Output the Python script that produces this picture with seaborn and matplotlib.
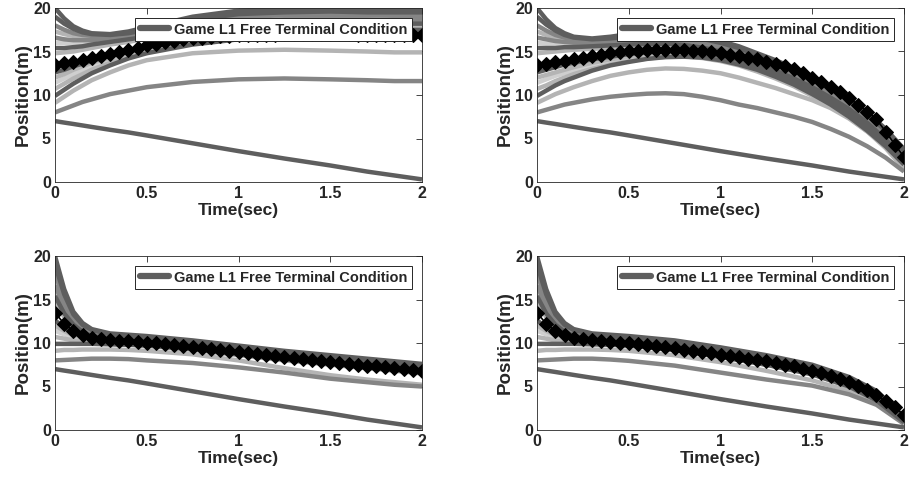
import numpy as np
import pandas as pd
import matplotlib
matplotlib.use("Agg")
import matplotlib.pyplot as plt
from matplotlib.lines import Line2D
import seaborn as sns

sns.set_style("white")
plt.rcParams['font.family'] = ['Liberation Sans', 'DejaVu Sans']
plt.rcParams['font.weight'] = 'bold'

# ---------------- data ----------------
T = [0, 0.05, 0.1, 0.15, 0.2, 0.3, 0.4, 0.5, 0.75, 1.0, 1.25, 1.5, 1.7, 1.85, 2.0]
T2 = [0, 0.05, 0.1, 0.15, 0.2, 0.3, 0.4, 0.5, 0.6, 0.7, 0.8, 0.9, 1.0, 1.1, 1.2,
      1.3, 1.4, 1.5, 1.6, 1.7, 1.8, 1.9, 2.0]
T_marker = [round(0.05 * i, 2) for i in range(41)]

legend_label = "Game L1 Free Terminal Condition"
x_ticks = [0, 0.5, 1, 1.5, 2]
x_tick_labels = ["0", "0.5", "1", "1.5", "2"]
y_ticks = [0, 5, 10, 15, 20]
y_tick_labels = ["0", "5", "10", "15", "20"]

# shade code of each trajectory (D dark, M medium, L light, W lighter)
shades = ["D", "D", "M", "L", "M", "W", "D", "L", "D", "L", "W", "L", "D", "L", "M"]

lead = [7.0, 6.83, 6.67, 6.5, 6.33, 6.0, 5.7, 5.35, 4.45, 3.55, 2.7, 1.9, 1.2, 0.75, 0.3]

p1_lines = [
    [20.0, 18.8, 17.9, 17.4, 17.1, 17.0, 17.3, 17.8, 19.0, 19.7, 19.9, 19.9, 19.8, 19.8, 19.8],
    [19.0, 18.2, 17.6, 17.2, 17.0, 16.9, 17.1, 17.5, 18.6, 19.3, 19.5, 19.6, 19.5, 19.5, 19.5],
    [18.0, 17.5, 17.1, 16.9, 16.8, 16.8, 17.0, 17.3, 18.2, 18.9, 19.2, 19.2, 19.2, 19.1, 19.1],
    [17.3, 17.0, 16.8, 16.6, 16.6, 16.7, 16.9, 17.2, 18.0, 18.6, 18.9, 19.0, 18.9, 18.9, 18.9],
    [16.6, 16.4, 16.3, 16.3, 16.3, 16.5, 16.7, 17.0, 17.8, 18.4, 18.7, 18.7, 18.7, 18.6, 18.6],
    [16.0, 16.0, 16.0, 16.0, 16.1, 16.3, 16.6, 16.9, 17.6, 18.1, 18.4, 18.5, 18.4, 18.4, 18.4],
    [15.4, 15.4, 15.5, 15.6, 15.8, 16.1, 16.4, 16.7, 17.4, 17.9, 18.2, 18.3, 18.2, 18.2, 18.2],
    [14.8, 14.9, 15.0, 15.2, 15.4, 15.8, 16.1, 16.5, 17.2, 17.7, 18.0, 18.1, 18.0, 18.0, 18.0],
    [12.6, 12.9, 13.3, 13.6, 13.9, 14.5, 15.0, 15.5, 16.4, 17.0, 17.4, 17.5, 17.5, 17.5, 17.5],
    [12.0, 12.4, 12.9, 13.3, 13.7, 14.3, 14.9, 15.4, 16.3, 16.9, 17.2, 17.4, 17.4, 17.4, 17.4],
    [11.4, 11.9, 12.4, 12.9, 13.3, 14.0, 14.6, 15.1, 16.1, 16.7, 17.1, 17.2, 17.3, 17.3, 17.3],
    [10.7, 11.3, 11.9, 12.4, 12.9, 13.7, 14.4, 14.9, 15.9, 16.5, 16.9, 17.1, 17.1, 17.1, 17.1],
    [9.9, 10.6, 11.3, 11.9, 12.5, 13.4, 14.2, 14.8, 15.8, 16.4, 16.8, 17.0, 17.0, 17.0, 17.0],
    [9.1, 9.8, 10.5, 11.1, 11.7, 12.6, 13.4, 14.0, 14.8, 15.1, 15.2, 15.1, 15.0, 14.9, 14.9],
    [8.0, 8.4, 8.8, 9.2, 9.5, 10.1, 10.5, 10.9, 11.5, 11.8, 11.9, 11.8, 11.7, 11.6, 11.6],
]
p1_diamond = [13.5, 13.65, 13.8, 14.0, 14.2, 14.45, 14.7, 14.95, 15.2, 15.45, 15.7,
              15.9, 16.1, 16.25, 16.4, 16.5, 16.6, 16.7, 16.75, 16.8, 16.85,
              16.9, 16.9, 16.95, 16.95, 17.0, 17.0, 17.0, 17.0, 17.0, 17.0,
              17.0, 17.0, 16.95, 16.95, 16.9, 16.9, 16.9, 16.85, 16.85, 16.85]

# panel 2 is read on the finer time grid T2
p2_lines = [
    [20.0, 18.7, 17.7, 17.1, 16.7, 16.5, 16.7, 17.0, 17.1, 17.15, 17.0, 16.7, 16.2, 15.6, 14.8, 14.0, 13.1, 12.1, 10.9, 9.6, 8.0, 6.1, 3.8],
    [19.0, 18.1, 17.4, 16.9, 16.6, 16.4, 16.5, 16.7, 16.85, 16.9, 16.75, 16.45, 16.0, 15.4, 14.6, 13.8, 12.9, 11.9, 10.7, 9.4, 7.8, 5.9, 3.6],
    [18.0, 17.4, 16.9, 16.6, 16.4, 16.3, 16.4, 16.55, 16.65, 16.7, 16.55, 16.25, 15.8, 15.2, 14.4, 13.6, 12.7, 11.7, 10.5, 9.2, 7.6, 5.7, 3.4],
    [17.3, 16.9, 16.6, 16.4, 16.2, 16.1, 16.2, 16.35, 16.45, 16.5, 16.35, 16.05, 15.6, 15.0, 14.2, 13.4, 12.5, 11.5, 10.3, 9.0, 7.4, 5.5, 3.2],
    [16.6, 16.4, 16.2, 16.1, 16.0, 16.0, 16.1, 16.2, 16.25, 16.3, 16.15, 15.85, 15.4, 14.8, 14.0, 13.2, 12.3, 11.3, 10.1, 8.8, 7.2, 5.3, 3.0],
    [16.0, 15.9, 15.9, 15.8, 15.8, 15.8, 15.9, 16.0, 16.05, 16.1, 15.95, 15.65, 15.2, 14.6, 13.8, 13.0, 12.1, 11.1, 9.9, 8.6, 7.0, 5.1, 2.8],
    [15.4, 15.4, 15.4, 15.5, 15.5, 15.6, 15.7, 15.8, 15.85, 15.9, 15.75, 15.45, 15.0, 14.4, 13.6, 12.8, 11.9, 10.9, 9.7, 8.4, 6.8, 4.9, 2.6],
    [14.8, 14.9, 15.0, 15.1, 15.2, 15.3, 15.4, 15.5, 15.6, 15.65, 15.55, 15.25, 14.8, 14.2, 13.4, 12.6, 11.7, 10.7, 9.5, 8.2, 6.6, 4.7, 2.5],
    [12.6, 12.9, 13.2, 13.5, 13.7, 14.1, 14.4, 14.7, 14.9, 15.05, 15.05, 14.85, 14.5, 14.0, 13.3, 12.5, 11.6, 10.5, 9.3, 8.0, 6.4, 4.5, 2.4],
    [12.0, 12.3, 12.6, 12.9, 13.2, 13.7, 14.1, 14.4, 14.65, 14.8, 14.85, 14.65, 14.3, 13.8, 13.1, 12.3, 11.4, 10.3, 9.1, 7.8, 6.2, 4.4, 2.3],
    [11.4, 11.8, 12.2, 12.5, 12.8, 13.4, 13.8, 14.2, 14.45, 14.6, 14.65, 14.45, 14.1, 13.6, 12.9, 12.1, 11.2, 10.1, 8.9, 7.6, 6.0, 4.3, 2.2],
    [10.7, 11.1, 11.6, 12.0, 12.4, 13.0, 13.5, 13.9, 14.2, 14.4, 14.45, 14.25, 13.9, 13.4, 12.7, 11.9, 11.0, 9.9, 8.7, 7.4, 5.8, 4.2, 2.1],
    [9.9, 10.5, 11.1, 11.6, 12.0, 12.8, 13.4, 13.8, 14.15, 14.35, 14.4, 14.3, 14.0, 13.5, 12.9, 12.1, 11.2, 10.1, 8.9, 7.5, 5.9, 4.1, 2.0],
    [9.1, 9.6, 10.1, 10.5, 10.9, 11.6, 12.2, 12.6, 12.9, 13.05, 13.0, 12.8, 12.5, 12.0, 11.4, 10.8, 10.1, 9.4, 8.5, 7.3, 5.8, 3.9, 1.5],
    [8.0, 8.3, 8.6, 8.9, 9.1, 9.5, 9.8, 10.0, 10.15, 10.2, 10.1, 9.8, 9.4, 8.9, 8.5, 8.0, 7.5, 6.9, 6.1, 5.2, 4.1, 2.8, 1.2],
]
p2_diamond = [13.5, 13.6, 13.75, 13.9, 14.1, 14.3, 14.5, 14.65, 14.8, 14.9, 15.0,
              15.1, 15.15, 15.2, 15.2, 15.2, 15.15, 15.1, 15.0, 14.9, 14.8,
              14.65, 14.5, 14.3, 14.1, 13.85, 13.6, 13.3, 12.95, 12.5, 12.0,
              11.5, 10.9, 10.3, 9.6, 8.9, 8.1, 7.2, 5.8, 4.3, 2.9]

p3_lines = [
    [20.0, 16.2, 13.6, 12.3, 11.6, 11.1, 10.95, 10.8, 10.3, 9.7, 9.1, 8.6, 8.2, 7.9, 7.6],
    [19.0, 15.6, 13.3, 12.1, 11.5, 11.0, 10.85, 10.7, 10.2, 9.6, 9.0, 8.5, 8.1, 7.8, 7.5],
    [18.0, 15.0, 13.0, 11.9, 11.3, 10.9, 10.75, 10.6, 10.1, 9.5, 8.9, 8.4, 8.0, 7.7, 7.4],
    [17.3, 14.6, 12.8, 11.8, 11.2, 10.8, 10.65, 10.5, 10.0, 9.4, 8.8, 8.3, 7.9, 7.6, 7.3],
    [16.6, 14.2, 12.6, 11.6, 11.1, 10.7, 10.55, 10.4, 9.9, 9.3, 8.7, 8.2, 7.8, 7.5, 7.2],
    [16.0, 13.8, 12.3, 11.4, 10.9, 10.6, 10.45, 10.3, 9.8, 9.2, 8.6, 8.1, 7.7, 7.4, 7.1],
    [15.4, 13.4, 12.1, 11.3, 10.8, 10.5, 10.35, 10.2, 9.7, 9.1, 8.5, 8.0, 7.6, 7.3, 7.0],
    [14.8, 13.0, 11.8, 11.1, 10.7, 10.4, 10.25, 10.1, 9.6, 9.0, 8.4, 7.9, 7.5, 7.2, 6.9],
    [12.6, 11.8, 11.2, 10.8, 10.5, 10.3, 10.15, 10.0, 9.5, 8.9, 8.3, 7.8, 7.4, 7.1, 6.8],
    [12.0, 11.4, 10.9, 10.6, 10.4, 10.2, 10.05, 9.9, 9.4, 8.8, 8.2, 7.7, 7.3, 7.0, 6.7],
    [11.4, 11.0, 10.7, 10.4, 10.2, 10.0, 9.9, 9.8, 9.3, 8.7, 8.1, 7.6, 7.2, 6.9, 6.6],
    [10.7, 10.5, 10.3, 10.1, 10.0, 9.9, 9.8, 9.7, 9.2, 8.6, 8.0, 7.5, 7.1, 6.8, 6.5],
    [9.9, 9.9, 9.9, 9.9, 9.9, 9.85, 9.8, 9.7, 9.3, 8.7, 8.1, 7.6, 7.2, 6.9, 6.6],
    [9.1, 9.2, 9.2, 9.25, 9.25, 9.25, 9.2, 9.1, 8.7, 8.0, 7.1, 6.3, 5.8, 5.5, 5.2],
    [8.0, 8.05, 8.1, 8.15, 8.2, 8.2, 8.15, 8.0, 7.7, 7.2, 6.6, 5.9, 5.5, 5.2, 5.0],
]
p3_diamond = [13.5, 12.2, 11.4, 10.9, 10.6, 10.45, 10.35, 10.25, 10.2, 10.1, 10.0,
              9.95, 9.85, 9.75, 9.65, 9.55, 9.45, 9.35, 9.2, 9.1, 9.0,
              8.9, 8.75, 8.65, 8.55, 8.4, 8.3, 8.2, 8.05, 7.95, 7.85,
              7.7, 7.6, 7.5, 7.4, 7.3, 7.2, 7.1, 7.0, 6.9, 6.8]

p4_lines = [
    [20.0, 16.2, 13.6, 12.3, 11.6, 11.1, 10.95, 10.8, 10.3, 9.5, 8.6, 7.5, 6.1, 4.5, 1.5],
    [19.0, 15.6, 13.3, 12.1, 11.5, 11.0, 10.85, 10.7, 10.2, 9.4, 8.5, 7.4, 6.0, 4.4, 1.4],
    [18.0, 15.0, 13.0, 11.9, 11.3, 10.9, 10.75, 10.6, 10.1, 9.3, 8.4, 7.3, 5.9, 4.3, 1.3],
    [17.3, 14.6, 12.8, 11.8, 11.2, 10.8, 10.65, 10.5, 10.0, 9.2, 8.3, 7.2, 5.8, 4.2, 1.3],
    [16.6, 14.2, 12.6, 11.6, 11.1, 10.7, 10.55, 10.4, 9.9, 9.1, 8.2, 7.1, 5.7, 4.1, 1.2],
    [16.0, 13.8, 12.3, 11.4, 10.9, 10.6, 10.45, 10.3, 9.8, 9.0, 8.1, 7.0, 5.6, 4.0, 1.2],
    [15.4, 13.4, 12.1, 11.3, 10.8, 10.5, 10.35, 10.2, 9.7, 8.9, 8.0, 6.9, 5.5, 3.9, 1.1],
    [14.8, 13.0, 11.8, 11.1, 10.7, 10.4, 10.25, 10.1, 9.6, 8.8, 7.9, 6.8, 5.4, 3.8, 1.1],
    [12.6, 11.8, 11.2, 10.8, 10.5, 10.3, 10.15, 10.0, 9.5, 8.7, 7.8, 6.7, 5.3, 3.7, 1.0],
    [12.0, 11.4, 10.9, 10.6, 10.4, 10.2, 10.05, 9.9, 9.4, 8.6, 7.7, 6.6, 5.2, 3.6, 1.0],
    [11.4, 11.0, 10.7, 10.4, 10.2, 10.0, 9.9, 9.8, 9.3, 8.5, 7.6, 6.5, 5.1, 3.5, 0.9],
    [10.7, 10.5, 10.3, 10.1, 10.0, 9.9, 9.8, 9.7, 9.2, 8.4, 7.5, 6.4, 5.0, 3.4, 0.9],
    [9.9, 9.9, 9.9, 9.9, 9.9, 9.85, 9.8, 9.7, 9.2, 8.4, 7.5, 6.4, 5.0, 3.4, 0.9],
    [9.1, 9.2, 9.2, 9.25, 9.25, 9.25, 9.2, 9.1, 8.6, 7.8, 6.8, 5.7, 4.5, 3.1, 0.8],
    [8.0, 8.05, 8.1, 8.15, 8.2, 8.2, 8.1, 7.95, 7.4, 6.6, 5.8, 5.1, 4.1, 2.9, 0.7],
]
p4_diamond = [13.5, 12.2, 11.4, 10.9, 10.6, 10.45, 10.35, 10.25, 10.15, 10.05, 9.95,
              9.85, 9.75, 9.6, 9.5, 9.4, 9.25, 9.1, 8.95, 8.8, 8.65,
              8.5, 8.35, 8.2, 8.05, 7.9, 7.7, 7.5, 7.3, 7.05, 6.8,
              6.55, 6.25, 5.9, 5.5, 5.05, 4.6, 4.0, 3.35, 2.6, 1.7]

# ---------------- style ----------------
shade_colors = {"D": "#5e5e5e", "M": "#858585", "L": "#b4b4b4", "W": "#cfcfcf"}
LW = 3.2
TXT = "#262626"

fig = plt.figure(figsize=(9.1, 4.87), dpi=100)
ax_w, ax_h = 367 / 910, 174 / 487
positions = [
    (55 / 910, 1 - 182 / 487),
    (537 / 910, 1 - 182 / 487),
    (55 / 910, 1 - 430 / 487),
    (537 / 910, 1 - 430 / 487),
]
panels = [(T, p1_lines, p1_diamond), (T2, p2_lines, p2_diamond),
          (T, p3_lines, p3_diamond), (T, p4_lines, p4_diamond)]

for (left, bottom), (tgrid, lines, diamond) in zip(positions, panels):
    ax = fig.add_axes([left, bottom, ax_w, ax_h])
    order = sorted(range(len(lines)), key=lambda i: "WLMD".index(shades[i]))
    for i in order:
        sns.lineplot(x=tgrid, y=lines[i], ax=ax, color=shade_colors[shades[i]],
                     lw=LW, legend=False, sort=False, solid_capstyle="butt",
                     solid_joinstyle="round")
    sns.lineplot(x=T, y=lead, ax=ax, color=shade_colors["D"], lw=LW,
                 legend=False, sort=False, solid_capstyle="butt")
    sns.lineplot(x=T_marker, y=diamond, ax=ax, color="black", lw=1.2,
                 marker="D", markersize=7, markeredgecolor="black",
                 markerfacecolor="black", legend=False, sort=False)

    ax.set_xlim(0, 2)
    ax.set_ylim(0, 20)
    ax.set_xticks(x_ticks)
    ax.set_xticklabels(x_tick_labels)
    ax.set_yticks(y_ticks)
    ax.set_yticklabels(y_tick_labels)
    ax.tick_params(direction="in", length=4, width=0.6, top=True, right=True,
                   labelsize=11.5, colors=TXT, pad=3)
    for lab in ax.get_xticklabels() + ax.get_yticklabels():
        lab.set_fontweight("bold")
        lab.set_color(TXT)
    for sp in ax.spines.values():
        sp.set_visible(True)
        sp.set_color(TXT)
        sp.set_linewidth(0.6)
    ax.set_xlabel("Time(sec)", fontsize=12.5, fontweight="bold", color=TXT, labelpad=1)
    ax.set_ylabel("Position(m)", fontsize=13.5, fontweight="bold", color=TXT, labelpad=1)

    handle = Line2D([], [], color=shade_colors["D"], lw=4.5)
    leg = ax.legend([handle], [legend_label], loc="upper right",
                    prop={"weight": "bold", "size": 10.5}, frameon=True,
                    fancybox=False, framealpha=1, edgecolor=TXT,
                    handlelength=2.0, handletextpad=0.35, borderpad=0.3,
                    borderaxespad=0.7)
    leg.get_frame().set_linewidth(0.7)
    ax.set_facecolor("white")

fig.savefig("out.png", dpi=100, facecolor="white")
